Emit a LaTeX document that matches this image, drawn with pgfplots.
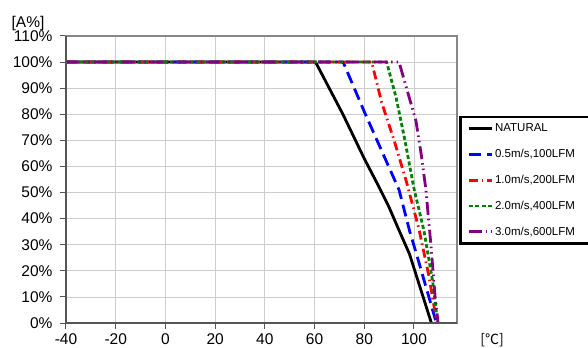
\documentclass[border=0pt]{standalone}
\usepackage{pgfplots}
\pgfplotsset{compat=1.18}
\usepackage{fontspec}
\setmainfont{Liberation Sans}
\newfontfamily\cjk{Noto Sans CJK SC}
\definecolor{gridgray}{RGB}{205,205,205}
\definecolor{framegray}{RGB}{135,135,135}
\definecolor{axisgray}{RGB}{85,85,85}
\definecolor{lgreen}{RGB}{0,128,0}
\definecolor{lpurple}{RGB}{128,0,128}

\begin{document}
\begin{tikzpicture}
\begin{axis}[
  scale only axis, width=391bp, height=287bp,
  xmin=-40, xmax=117.3, ymin=0, ymax=110,
  xtick={-40,-20,...,100}, ytick={0,10,...,110},
  yticklabel={\pgfmathprintnumber{\tick}\%},
  tick pos=left, tick align=outside, major tick length=6bp,
  tick style={axisgray, line width=1bp},
  grid=major, major grid style={gridgray, line width=0.8bp},
  axis line style={framegray, line width=1.6bp},
  ticklabel style={font=\fontsize{15.5bp}{18bp}\selectfont},
  yticklabel style={xshift=-4bp},
  xticklabel style={yshift=-1.5bp},
  /pgf/number format/assume math mode=true,
  clip=false,
  legend cell align=left,
  legend style={at={(1.005,0.722)}, anchor=north west, draw=black,
    line width=2.6bp, font=\fontsize{11.5bp}{13bp}\selectfont,
    inner xsep=7bp, inner ysep=5bp, row sep=12bp,
    nodes={text width=86bp, align=left}},
  legend image code/.code={\draw[#1] (0bp,0bp) -- (23bp,0bp);},
]
% natural convection
\addplot[black, line width=2.8bp] coordinates {
  (-40,100) (60.4,100) (71.4,80) (80,63) (86,52) (90,44.3) (94,35.5) (98.2,26.4) (107,0)};
\addlegendentry{NATURAL}
\addplot[blue, line width=2.8bp, dash pattern=on 12bp off 6bp] coordinates {
  (-40,100) (71.5,100) (80,81) (87,66) (94,51) (98.2,35.4) (102.2,22.5) (109,0)};
\addlegendentry{0.5m/s,100LFM}
\addplot[red, line width=2.8bp, dash pattern=on 9bp off 4bp on 1.5bp off 4bp] coordinates {
  (-40,100) (83,100) (87,84.5) (92,70) (97,54) (102,36) (106,18) (109.2,0)};
\addlegendentry{1.0m/s,200LFM}
\addplot[lgreen, line width=2.8bp, dash pattern=on 4bp off 2.5bp] coordinates {
  (-40,100) (89,100) (92.8,86.4) (96.1,71.2) (100,51.5) (104,35.4) (107.5,16) (109.5,0)};
\addlegendentry{2.0m/s,400LFM}
\addplot[lpurple, line width=2.8bp, dash pattern=on 13bp off 4bp on 1.5bp off 4bp on 1.5bp off 4bp] coordinates {
  (-40,100) (94,100) (97,90) (100.8,77.4) (103,64) (104.8,51) (106.8,30) (108.5,10) (109.7,0)};
\addlegendentry{3.0m/s,600LFM}
\coordinate (ll) at (rel axis cs:0,0);
\coordinate (ul) at (rel axis cs:0,1);
\coordinate (lr) at (rel axis cs:1,0);
\coordinate (ur) at (rel axis cs:1,1);
\end{axis}
\draw[axisgray, line width=2bp] (ul) -- (ll) -- (lr);
\node[font=\fontsize{15.5bp}{18bp}\selectfont] at ([shift={(-38bp,13bp)}]ul) {[A\%]};
\node[font={\cjk\fontsize{14bp}{16bp}\selectfont}, anchor=base] at ([shift={(35bp,-21.5bp)}]lr) {[℃]};
\pgfresetboundingbox
\path ([shift={(-66bp,-25bp)}]ll) rectangle ([shift={(131bp,36bp)}]ur);
\end{tikzpicture}
\end{document}
